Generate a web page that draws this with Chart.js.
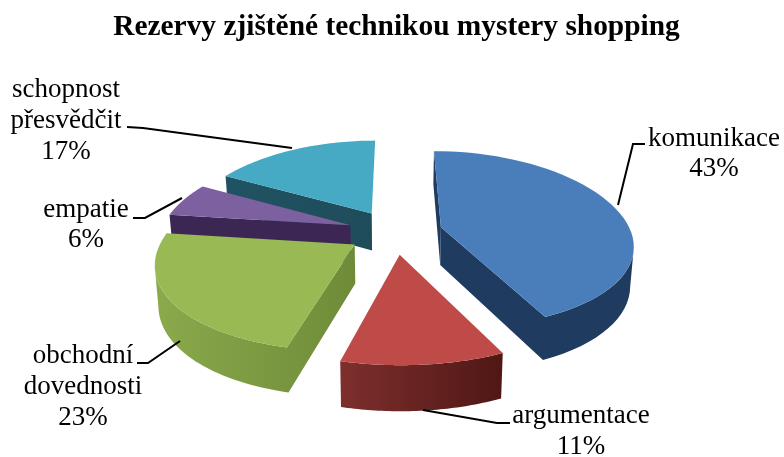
<!DOCTYPE html>
<html>
<head>
<meta charset="utf-8">
<style>
  html, body { margin: 0; padding: 0; background: #fff; }
  canvas { display: block; }
</style>
<script src="https://cdn.jsdelivr.net/npm/chart.js@4"></script>
</head>
<body>
<canvas id="chart" width="784" height="457"></canvas>
<script>
const titleText = "Rezervy zjištěné technikou mystery shopping";
const categories = [["komunikace"], ["argumentace"], ["obchodní", "dovednosti"], ["empatie"], ["schopnost", "přesvědčit"]];
const shares = [43, 11, 23, 6, 17];

const topColors = ["#4a7ebb", "#be4b48", "#98b954", "#7d60a0", "#46aac5"];
const wallColorsLeft = ["#1f3b60", "#7e2f2d", "#8aaa4c", "#3c2754", "#1f5363"];
const wallColorsRight = ["#1f3b60", "#4f1715", "#6f8b38", "#3c2754", "#1f4c5b"];

// back to front, so nearer slices overlap the far ones
const paintOrder = [4, 3, 0, 2, 1];

// how the flat pie is laid onto the tilted plane
const view = { cx: 395, cy: 232, rx: 190, ry: 88, perspX: 0.18, perspY: 0.14, explode: 0.25, depth: 38, shrink: 0.985 };

// label block centre, first baseline, line step and leader polyline for each slice
const labelLayout = [
  { x: 714, y: 146, step: 30, leader: [[645, 144], [633, 144], [618, 205]] },
  { x: 581, y: 423, step: 31, leader: [[510, 423], [497, 423], [423, 410]] },
  { x: 83, y: 363, step: 31, leader: [[137, 363], [148, 363], [180, 341]] },
  { x: 86, y: 217, step: 30, leader: [[133, 218], [145, 218], [182, 198]] },
  { x: 66, y: 97, step: 31, leader: [[127, 127], [143, 128], [292, 148]] }
];

const project = (u, v) => {
  const s = 1 / (1 - view.perspY * v);
  return {
    x: view.cx + view.rx * u / (1 - view.perspX * v),
    y: view.cy + view.ry * v * s,
    s
  };
};

const lowered = (p) => ({
  x: view.cx + (p.x - view.cx) * view.shrink,
  y: p.y + view.depth * p.s
});

const outline = (arc) => {
  const mid = (arc.startAngle + arc.endAngle) / 2;
  const ou = view.explode * Math.cos(mid);
  const ov = view.explode * Math.sin(mid);
  const pts = [project(ou, ov)];
  const steps = 48;
  for (let i = 0; i <= steps; i++) {
    const a = arc.startAngle + (arc.endAngle - arc.startAngle) * i / steps;
    pts.push(project(ou + Math.cos(a), ov + Math.sin(a)));
  }
  return pts;
};

const tracePoly = (ctx, pts) => {
  ctx.beginPath();
  pts.forEach((p, i) => i ? ctx.lineTo(p.x, p.y) : ctx.moveTo(p.x, p.y));
  ctx.closePath();
};

// runs of neighbouring outline points whose wall faces the viewer
const visibleRuns = (pts) => {
  const runs = [];
  let run = null;
  for (let i = 0; i < pts.length; i++) {
    const closing = i === pts.length - 1;
    const q = pts[(i + 1) % pts.length];
    // the closing edge back to the apex needs a clear lean to show at all
    if (q.x < pts[i].x - (closing ? 10 : 0)) {
      if (!run) {
        run = [pts[i]];
        runs.push(run);
      }
      run.push(q);
    } else {
      run = null;
    }
  }
  return runs;
};

const pie3d = {
  id: "pie3d",
  beforeDatasetsDraw(chart) {
    const ctx = chart.ctx;
    const arcs = chart.getDatasetMeta(0).data;
    ctx.save();
    paintOrder.forEach((idx) => {
      const pts = outline(arcs[idx]);
      const xs = pts.map(p => p.x);
      const grad = ctx.createLinearGradient(Math.min(...xs), 0, Math.max(...xs), 0);
      grad.addColorStop(0, wallColorsLeft[idx]);
      grad.addColorStop(1, wallColorsRight[idx]);
      ctx.fillStyle = grad;
      visibleRuns(pts).forEach((run) => {
        tracePoly(ctx, run.concat(run.map(lowered).reverse()));
        ctx.fill();
      });
      tracePoly(ctx, pts);
      ctx.fillStyle = arcs[idx].options.backgroundColor;
      ctx.fill();
    });
    ctx.restore();
    return false; // slices are fully painted here
  },
  afterDraw(chart) {
    const ctx = chart.ctx;
    ctx.save();
    ctx.strokeStyle = "#000";
    ctx.lineWidth = 2;
    ctx.fillStyle = "#000";
    ctx.font = "27px 'Liberation Serif'";
    ctx.textAlign = "center";
    categories.forEach((lines, i) => {
      const lay = labelLayout[i];
      ctx.beginPath();
      lay.leader.forEach((p, k) => k ? ctx.lineTo(p[0], p[1]) : ctx.moveTo(p[0], p[1]));
      ctx.stroke();
      lines.concat(shares[i] + "%").forEach((t, k) => {
        ctx.fillText(t, lay.x, lay.y + k * lay.step);
      });
    });
    ctx.restore();
  }
};

new Chart(document.getElementById("chart"), {
  type: "pie",
  data: {
    labels: categories.map(c => c.join(" ")),
    datasets: [{ data: shares, backgroundColor: topColors, borderWidth: 0 }]
  },
  options: {
    responsive: false,
    animation: false,
    layout: { padding: { left: 9 } },
    plugins: {
      legend: { display: false },
      tooltip: { enabled: false },
      title: {
        display: true,
        text: titleText,
        color: "#000",
        font: { family: "'Liberation Serif'", size: 29.4, weight: "bold" },
        padding: { top: 10, bottom: 10 }
      }
    }
  },
  plugins: [pie3d]
});
</script>
</body>
</html>
